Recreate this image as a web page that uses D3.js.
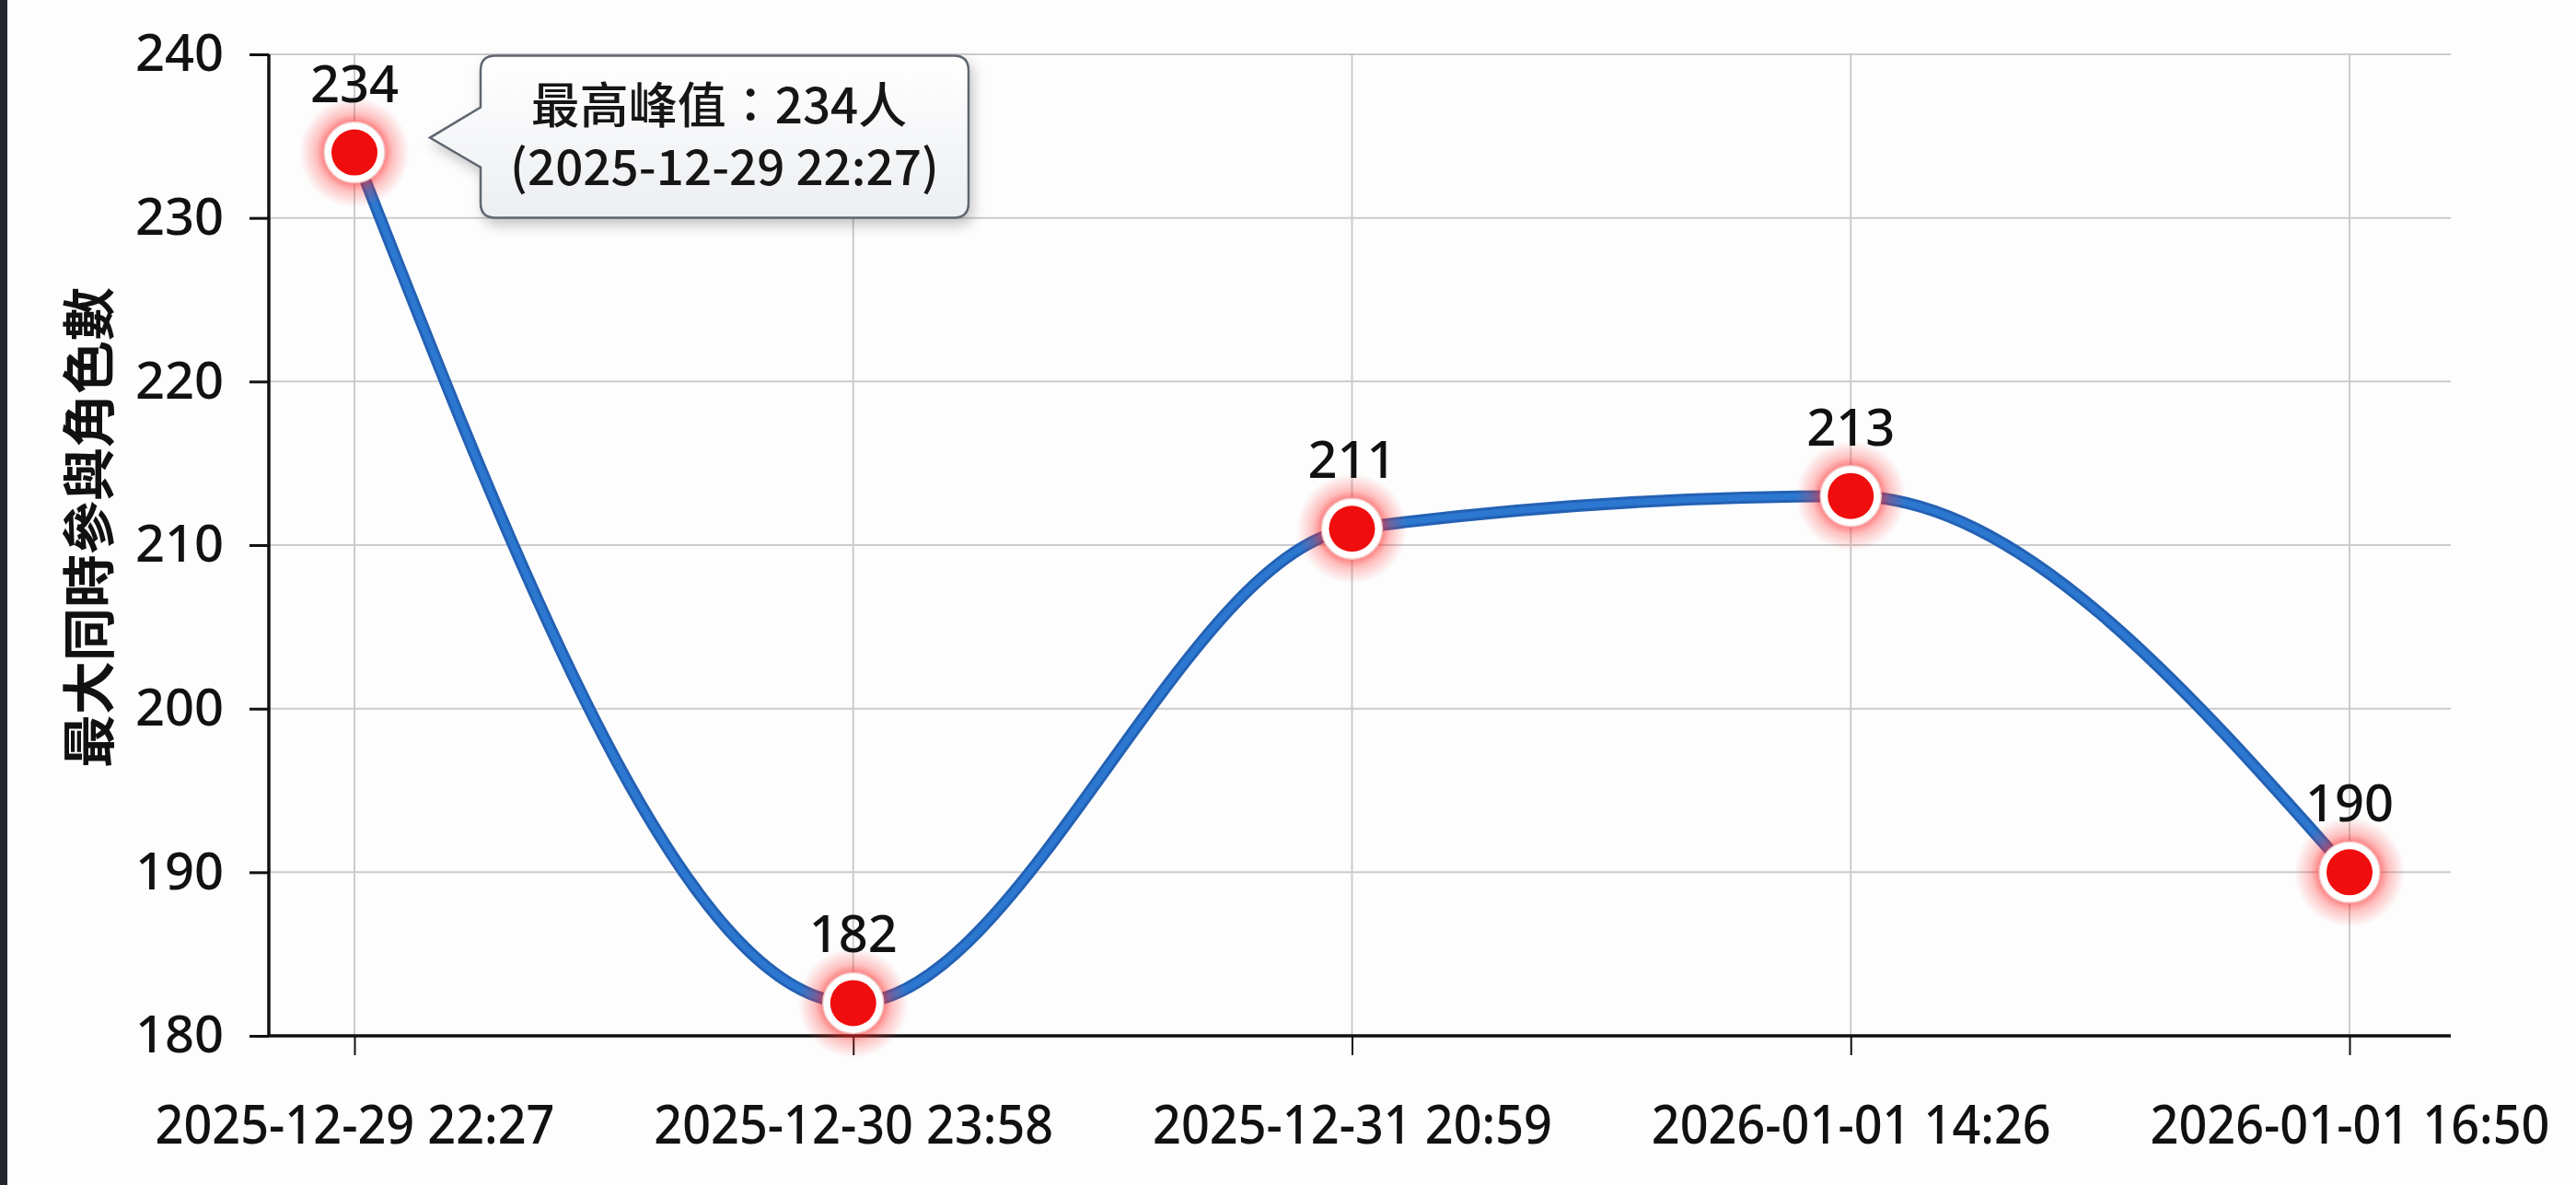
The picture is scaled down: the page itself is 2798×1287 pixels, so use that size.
<!DOCTYPE html>
<html>
<head>
<meta charset="utf-8">
<script src="https://cdn.jsdelivr.net/npm/d3@7"></script>
<style>
  body { margin: 0; background: #fdfdfd; overflow: hidden; }
  svg { display: block; }
</style>
</head>
<body>
<svg></svg>
<script>
// chart data
const timeLabels = ["2025-12-29 22:27", "2025-12-30 23:58", "2025-12-31 20:59", "2026-01-01 14:26", "2026-01-01 16:50"];
const peakCounts = [234, 182, 211, 213, 190];
const yTicks = [180, 190, 200, 210, 220, 230, 240];
const yTitle = "最大同時參與角色數";
const calloutLines = ["最高峰值：234人", "(2025-12-29 22:27)"];

const data = timeLabels.map((t, i) => ({ time: t, count: peakCounts[i] }));

// size constraints
const W = 2798, H = 1287;
const marginLeft = 292, marginTop = 59;
const width = 2370, height = 1066;

const svg = d3.select("svg").attr("width", W).attr("height", H);

// dark strip on the very left edge
svg.append("rect").attr("x", 0).attr("y", 0).attr("width", 8).attr("height", H).attr("fill", "#23262b");

const defs = svg.append("defs");

// glow behind the markers
const glow = defs.append("radialGradient").attr("id", "glow");
glow.append("stop").attr("offset", "0.45").attr("stop-color", "#ff1a1a").attr("stop-opacity", 0.75);
glow.append("stop").attr("offset", "0.7").attr("stop-color", "#ff3030").attr("stop-opacity", 0.3);
glow.append("stop").attr("offset", "1").attr("stop-color", "#ff4040").attr("stop-opacity", 0);

// callout box fill + shadow
const boxFill = defs.append("linearGradient").attr("id", "boxFill").attr("x1", 0).attr("y1", 0).attr("x2", 0).attr("y2", 1);
boxFill.append("stop").attr("offset", "0").attr("stop-color", "#ffffff");
boxFill.append("stop").attr("offset", "1").attr("stop-color", "#eceef1");
defs.append("filter").attr("id", "shadow").attr("x", "-20%").attr("y", "-20%").attr("width", "140%").attr("height", "150%")
  .append("feDropShadow").attr("dx", 4).attr("dy", 7).attr("stdDeviation", 7)
  .attr("flood-color", "#000").attr("flood-opacity", 0.22);

const g = svg.append("g").attr("transform", `translate(${marginLeft}, ${marginTop})`);

// scales
const x = d3.scalePoint().domain(timeLabels).range([93, 2260]);
const y = d3.scaleLinear().domain([180, 240]).range([height, 0]);

// grid lines
g.append("g").selectAll("line")
  .data(yTicks.filter(v => v !== 180)).enter().append("line")
  .attr("x1", 0).attr("x2", width)
  .attr("y1", d => y(d)).attr("y2", d => y(d))
  .attr("stroke", "#cbcbcb").attr("stroke-width", 2);

g.append("g").selectAll("line")
  .data(timeLabels).enter().append("line")
  .attr("x1", d => x(d)).attr("x2", d => x(d))
  .attr("y1", 0).attr("y2", height)
  .attr("stroke", "#cbcbcb").attr("stroke-width", 2);

// y-axis
const yAxis = g.append("g")
  .call(d3.axisLeft(y).tickValues(yTicks).tickSize(21).tickPadding(28));
yAxis.select(".domain").remove();
yAxis.selectAll("line").attr("stroke", "#111").attr("stroke-width", 3);
yAxis.selectAll("text")
  .attr("font-family", "'Noto Sans', sans-serif")
  .attr("font-size", 56)
  .attr("font-weight", 500)
  .attr("fill", "#111");

// x-axis
const xAxis = g.append("g")
  .attr("transform", `translate(0, ${height})`)
  .call(d3.axisBottom(x).tickSize(21).tickPadding(55));
xAxis.select(".domain").remove();
xAxis.selectAll("line").attr("stroke", "#111").attr("stroke-width", 2);
xAxis.selectAll("text")
  .attr("font-family", "'Noto Sans', sans-serif")
  .attr("font-size", 58)
  .attr("font-weight", 500)
  .attr("fill", "#111")
  .attr("textLength", 434)
  .attr("lengthAdjust", "spacingAndGlyphs");

// axis lines
g.append("line").attr("x1", 0).attr("x2", 0).attr("y1", 0).attr("y2", height)
  .attr("stroke", "#111").attr("stroke-width", 3.5);
g.append("line").attr("x1", 0).attr("x2", width).attr("y1", height).attr("y2", height)
  .attr("stroke", "#111").attr("stroke-width", 3.5);

// y-axis title
svg.append("text")
  .attr("transform", "translate(93, 573) rotate(-90)")
  .attr("text-anchor", "middle")
  .attr("dominant-baseline", "central")
  .attr("font-family", "'Noto Sans CJK TC', sans-serif")
  .attr("font-size", 58)
  .attr("font-weight", 700)
  .attr("fill", "#111")
  .text(yTitle);

// smooth line
const line = d3.line()
  .x(d => x(d.time))
  .y(d => y(d.count))
  .curve(d3.curveMonotoneX);

g.append("path")
  .attr("fill", "none")
  .attr("stroke", "#2361b4")
  .attr("stroke-width", 13)
  .attr("stroke-linecap", "round")
  .attr("d", line(data));
g.append("path")
  .attr("fill", "none")
  .attr("stroke", "#2c78d0")
  .attr("stroke-width", 7)
  .attr("stroke-linecap", "round")
  .attr("d", line(data));

// markers
const points = g.selectAll(".pt").data(data).enter().append("g")
  .attr("class", "pt")
  .attr("transform", d => `translate(${x(d.time)}, ${y(d.count)})`);

points.append("circle").attr("r", 60).attr("fill", "url(#glow)");
points.append("circle").attr("r", 33).attr("fill", "#ffffff").attr("stroke", "#f2c7c7").attr("stroke-width", 1.5);
points.append("circle").attr("r", 25).attr("fill", "#f00d0d");

// value labels
points.append("text")
  .attr("y", -55)
  .attr("text-anchor", "middle")
  .attr("font-family", "'Noto Sans', sans-serif")
  .attr("font-size", 56)
  .attr("font-weight", 500)
  .attr("fill", "#111")
  .text(d => d.count);

// callout next to the highest point
const peak = data.reduce((a, b) => (b.count > a.count ? b : a));
const px = x(peak.time) + marginLeft, py = y(peak.count) + marginTop;
const bx = px + 137, by = py - 105, bw = 530, bh = 176, r = 16;
const tipX = px + 82, tipY = py - 16;
const calloutPath = `M${bx + r},${by} H${bx + bw - r} Q${bx + bw},${by} ${bx + bw},${by + r}
  V${by + bh - r} Q${bx + bw},${by + bh} ${bx + bw - r},${by + bh} H${bx + r}
  Q${bx},${by + bh} ${bx},${by + bh - r} V${py + 16} L${tipX},${tipY} L${bx},${py - 49}
  V${by + r} Q${bx},${by} ${bx + r},${by} Z`;

svg.append("path")
  .attr("d", calloutPath)
  .attr("fill", "url(#boxFill)")
  .attr("stroke", "#5f6670")
  .attr("stroke-width", 2.5)
  .attr("filter", "url(#shadow)");

svg.selectAll(".callout-text")
  .data(calloutLines).enter().append("text")
  .attr("class", "callout-text")
  .attr("x", (d, i) => bx + bw / 2 + (i === 0 ? -6 : 0))
  .attr("y", (d, i) => by + 73 + i * 67)
  .attr("text-anchor", "middle")
  .attr("font-family", "'Noto Sans CJK TC', sans-serif")
  .attr("font-size", 53)
  .attr("font-weight", 500)
  .attr("fill", "#161616")
  .text(d => d);
</script>
</body>
</html>
